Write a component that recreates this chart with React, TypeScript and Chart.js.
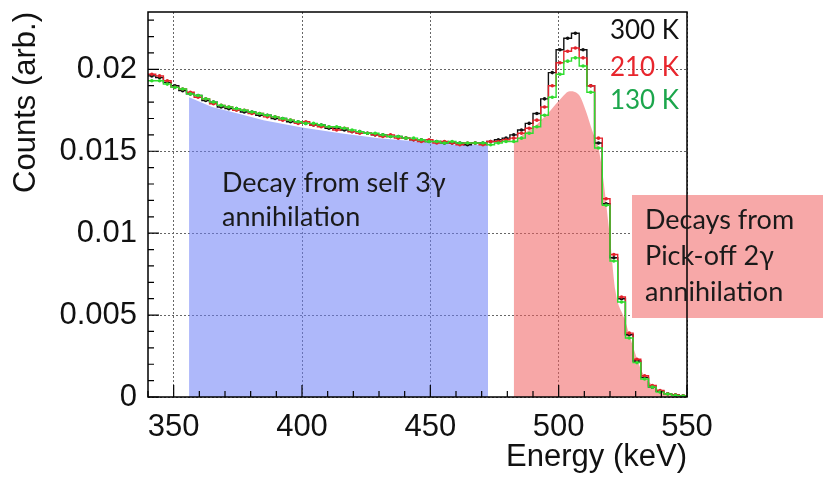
import React, { useEffect, useRef } from 'react';
import { Chart, registerables } from 'chart.js';

Chart.register(...registerables);

// ---- histogram binning (keV) ----
const binLow = 340;
const binHigh = 550;
const binWidth = 3;

// ---- series: counts per 3 keV bin (arb.) ----
const counts300K = [
  0.0196, 0.0195, 0.0192, 0.0190, 0.0187, 0.0185, 0.0184, 0.0181, 0.0180, 0.0177,
  0.0176, 0.0176, 0.0174, 0.0174, 0.0172, 0.0172, 0.0170, 0.0170, 0.0168, 0.0168,
  0.0167, 0.0166, 0.0166, 0.0164, 0.0164, 0.0163, 0.0162, 0.0162, 0.0161, 0.0160,
  0.0160, 0.0159, 0.0159, 0.0158, 0.0157, 0.0157, 0.0156, 0.0156, 0.0155, 0.0155,
  0.0155, 0.0154, 0.0155, 0.0155, 0.0156, 0.0157, 0.0158,
  0.0160, 0.0163, 0.0167, 0.0173, 0.0182, 0.0198, 0.0212, 0.0219, 0.0222, 0.0212,
  0.0190, 0.0155, 0.0118, 0.0085, 0.0060, 0.0038, 0.0022, 0.0012, 0.0006, 0.00035,
  0.0002, 0.00012, 0.00008,
];
const counts210K = [
  0.0197, 0.0196, 0.0193, 0.0189, 0.0188, 0.0186, 0.0183, 0.0182, 0.0179, 0.0178,
  0.0177, 0.0175, 0.0175, 0.0173, 0.0173, 0.0171, 0.0171, 0.0169, 0.0169, 0.0167,
  0.0168, 0.0166, 0.0165, 0.0165, 0.0163, 0.0164, 0.0162, 0.0161, 0.0161, 0.0160,
  0.0159, 0.0160, 0.0158, 0.0158, 0.0157, 0.0156, 0.0157, 0.0155, 0.0156, 0.0155,
  0.0154, 0.0155, 0.0155, 0.0154, 0.0156, 0.0156, 0.0157,
  0.0158, 0.0161, 0.0164, 0.0169, 0.0177, 0.0190, 0.0204, 0.0211, 0.0213, 0.0207,
  0.0190, 0.0158, 0.0121, 0.0087, 0.0061, 0.0039, 0.0023, 0.0013, 0.0007, 0.0004,
  0.0002, 0.00013, 0.00008,
];
const counts130K = [
  0.0193, 0.0193, 0.0191, 0.0189, 0.0188, 0.0185, 0.0184, 0.0182, 0.0180, 0.0178,
  0.0177, 0.0176, 0.0175, 0.0174, 0.0173, 0.0172, 0.0171, 0.0170, 0.0169, 0.0168,
  0.0167, 0.0167, 0.0166, 0.0165, 0.0165, 0.0164, 0.0163, 0.0162, 0.0161, 0.0161,
  0.0160, 0.0159, 0.0159, 0.0158, 0.0158, 0.0157, 0.0156, 0.0156, 0.0155, 0.0156,
  0.0155, 0.0155, 0.0155, 0.0155, 0.0154, 0.0155, 0.0156,
  0.0156, 0.0158, 0.0161, 0.0165, 0.0172, 0.0183, 0.0197, 0.0205, 0.0207, 0.0202,
  0.0186, 0.0152, 0.0117, 0.0083, 0.0058, 0.0036, 0.0021, 0.0011, 0.0006, 0.0003,
  0.00018, 0.0001, 0.00006,
];

const seriesLabels = ['300 K', '210 K', '130 K'];
const lineColors = ['#111111', '#e3222b', '#2fdc2f'];
const labelColors = ['#111111', '#e8262d', '#1ca64c'];

// ---- shaded regions (energy keV, counts) ----
const selfRegionE = [356, 365, 375, 385, 400, 415, 430, 445, 460, 472.5];
const selfRegionY = [0.0183, 0.0177, 0.0173, 0.0169, 0.01645, 0.0161, 0.0158, 0.0156, 0.0154, 0.0154];
const pickoffRegionE = [482.5, 486.8, 491.9, 496.9, 500.8, 504.3, 506.6, 508.5, 510.5, 513.2, 515.9, 519.8, 522.1, 525.6, 528.7, 532.6, 538.4, 544.2, 548.8];
const pickoffRegionY = [0.0155, 0.0161, 0.0167, 0.0175, 0.0182, 0.01866, 0.0186, 0.0183, 0.0175, 0.0162, 0.0149, 0.0100, 0.0065, 0.0048, 0.0032, 0.0015, 0.0005, 0.0001, 0];

// ---- axes ----
const xTickValues = [350, 400, 450, 500, 550];
const yTickValues = [0, 0.005, 0.01, 0.015, 0.02];
const yTickLabels = ['0', '0.005', '0.01', '0.015', '0.02'];
const yMax = 0.0235;
const xTitle = 'Energy (keV)';
const yTitle = 'Counts (arb.)';

const selfText = ['Decay from self 3γ', 'annihilation'];
const pickoffText = ['Decays from', 'Pick-off 2γ', 'annihilation'];

const AXIS_FONT = "'Liberation Sans', Arial, Helvetica, sans-serif";
const NOTE_FONT = "Lato, 'Open Sans', sans-serif";

function stepPoints(vals: number[]) {
  const pts = vals.map((v, i) => ({ x: binLow + i * binWidth, y: v }));
  pts.push({ x: binHigh, y: vals[vals.length - 1] });
  return pts;
}
function centerPoints(vals: number[]) {
  return vals.map((v, i) => ({ x: binLow + (i + 0.5) * binWidth, y: v }));
}

const overlayPlugin = {
  id: 'overlay',
  afterDatasetsDraw(chart: any) {
    const { ctx, chartArea: a, scales } = chart;
    const x = scales.x;
    const y = scales.y;
    ctx.save();

    // blue annotation text
    ctx.fillStyle = '#1a1a1a';
    ctx.font = `27px ${NOTE_FONT}`;
    ctx.textAlign = 'left';
    ctx.textBaseline = 'middle';
    ctx.fillText(selfText[0], 222, 183);
    ctx.fillText(selfText[1], 222, 217);

    // pink box
    ctx.fillStyle = 'rgb(247,168,168)';
    ctx.fillRect(632, 195, 191, 123);

    // frame
    ctx.strokeStyle = '#000';
    ctx.lineWidth = 1.5;
    ctx.strokeRect(a.left, a.top, a.right - a.left, a.bottom - a.top);

    // inner ticks
    ctx.lineWidth = 1.2;
    ctx.beginPath();
    for (let k = 0; k <= 23; k++) {
      const py = y.getPixelForValue(k * 0.001);
      const len = k % 5 === 0 ? 11 : 6;
      ctx.moveTo(a.left, py);
      ctx.lineTo(a.left + len, py);
    }
    for (let e = 340; e <= 550; e += 10) {
      const px = x.getPixelForValue(e);
      const len = e % 50 === 0 ? 12 : 6;
      ctx.moveTo(px, a.bottom);
      ctx.lineTo(px, a.bottom - len);
    }
    ctx.stroke();

    // box text
    ctx.fillStyle = '#1a1a1a';
    ctx.font = `27px ${NOTE_FONT}`;
    pickoffText.forEach((t, i) => ctx.fillText(t, 645, 220 + i * 36));

    // legend texts
    ctx.font = `26px ${NOTE_FONT}`;
    ctx.textAlign = 'right';
    const ly = [31, 68, 101];
    seriesLabels.forEach((t, i) => {
      ctx.fillStyle = labelColors[i];
      ctx.fillText(t, 679, ly[i]);
    });
    ctx.restore();
  },
};

export default function App() {
  const ref = useRef<HTMLCanvasElement>(null);
  useEffect(() => {
    if (!ref.current) return;
    const seriesVals = [counts300K, counts210K, counts130K];
    const lineSets: any[] = [];
    seriesVals.forEach((vals, i) => {
      lineSets.push({
        label: seriesLabels[i],
        data: stepPoints(vals),
        stepped: 'before',
        borderColor: lineColors[i],
        borderWidth: 1.4,
        pointRadius: 0,
        fill: false,
        order: 3 - i,
      });
      lineSets.push({
        label: seriesLabels[i] + ' pts',
        data: centerPoints(vals),
        showLine: false,
        pointRadius: 1.8,
        pointBackgroundColor: lineColors[i],
        pointBorderColor: lineColors[i],
        pointBorderWidth: 0,
        order: 3 - i,
      });
    });
    const areaSets: any[] = [
      {
        label: 'self 3γ',
        data: selfRegionE.map((e, i) => ({ x: e, y: selfRegionY[i] })),
        borderWidth: 0,
        pointRadius: 0,
        backgroundColor: 'rgba(108,126,245,0.55)',
        fill: 'origin',
        order: 10,
      },
      {
        label: 'pick-off 2γ',
        data: pickoffRegionE.map((e, i) => ({ x: e, y: pickoffRegionY[i] })),
        borderWidth: 0,
        pointRadius: 0,
        cubicInterpolationMode: 'monotone',
        backgroundColor: 'rgba(240,95,95,0.55)',
        fill: 'origin',
        order: 11,
      },
    ];

    const zeroPad = (s: any) => {
      s.paddingTop = 0;
      s.paddingBottom = 0;
      s.paddingLeft = 0;
      s.paddingRight = 0;
    };

    const chart = new Chart(ref.current, {
      type: 'line',
      data: { datasets: [...lineSets, ...areaSets] },
      plugins: [overlayPlugin],
      options: {
        animation: false,
        responsive: false,
        devicePixelRatio: 1,
        layout: { padding: { top: 12, right: 136, left: 0, bottom: 0 } },
        plugins: { legend: { display: false }, tooltip: { enabled: false } },
        scales: {
          x: {
            type: 'linear',
            min: binLow,
            max: binHigh,
            ticks: {
              stepSize: 50,
              includeBounds: false,
              autoSkip: false,
              maxRotation: 0,
              padding: 12,
              color: '#111',
              font: { family: AXIS_FONT, size: 31 },
              callback: (v: any) => (xTickValues.includes(v) ? String(v) : ''),
            },
            grid: { drawTicks: false, color: '#666', lineWidth: 1 },
            border: { display: false, dash: [2, 2] },
            title: {
              display: true,
              text: xTitle,
              align: 'end',
              color: '#111',
              font: { family: AXIS_FONT, size: 31 },
              padding: { top: 0, bottom: 2 },
            },
            afterFit: (s: any) => {
              s.height = 81;
              zeroPad(s);
            },
          },
          y: {
            type: 'linear',
            min: 0,
            max: yMax,
            ticks: {
              stepSize: 0.005,
              includeBounds: false,
              padding: 11,
              color: '#111',
              font: { family: AXIS_FONT, size: 31 },
              callback: (v: any) => {
                const idx = yTickValues.findIndex((t) => Math.abs(t - v) < 1e-9);
                return idx >= 0 ? yTickLabels[idx] : '';
              },
            },
            grid: { drawTicks: false, color: '#666', lineWidth: 1 },
            border: { display: false, dash: [2, 2] },
            title: {
              display: true,
              text: yTitle,
              align: 'end',
              color: '#111',
              font: { family: AXIS_FONT, size: 31 },
              padding: { top: 8, bottom: 0 },
            },
            afterFit: (s: any) => {
              s.width = 148;
              zeroPad(s);
            },
          },
        },
      },
    } as any);
    return () => chart.destroy();
  }, []);

  return (
    <div style={{ position: 'absolute', left: 0, top: 0, width: 823, height: 478, background: '#fff' }}>
      <canvas ref={ref} width={823} height={478} />
    </div>
  );
}
